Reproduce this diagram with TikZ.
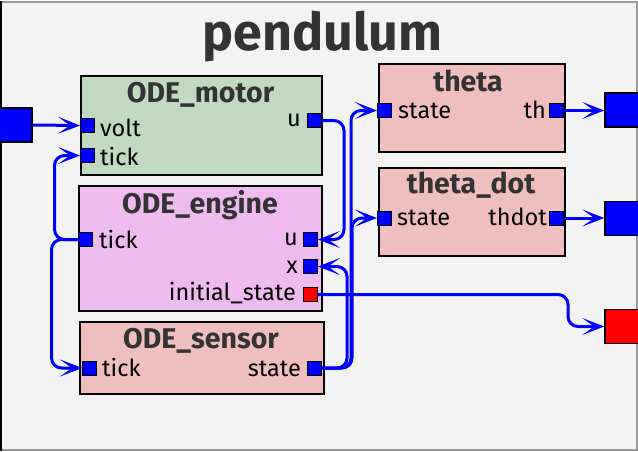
\documentclass[tikz,border=0pt]{standalone}
\usepackage{fontspec}
\setmainfont{Fira Sans}
\usetikzlibrary{arrows.meta}
\definecolor{bg}{HTML}{F3F3F3}
\definecolor{motorc}{HTML}{C0D9C0}
\definecolor{enginec}{HTML}{EEBBEE}
\definecolor{pinkc}{HTML}{EFBFBF}
\definecolor{titlec}{HTML}{333333}
\definecolor{framec}{HTML}{999999}
\begin{document}
\begin{tikzpicture}[x=1pt,y=-1pt,
 block/.style={draw=black, line width=2pt, anchor=north west, inner sep=0pt},
 port/.style={draw=black, line width=1pt, fill=blue, minimum size=14pt, inner sep=0pt},
 rport/.style={port, fill=red},
 ext/.style={draw=black, line width=1.5pt, fill=blue, minimum width=34pt, minimum height=34pt, inner sep=0pt},
 btitle/.style={font=\fontsize{28.5}{28.5}\selectfont\bfseries, text=titlec, anchor=base, inner sep=0pt},
 plabel/.style={font=\fontsize{23.5}{23.5}\selectfont, inner sep=0pt},
 wire/.style={draw=blue, line width=3pt, rounded corners=10pt, -{Stealth[length=22pt,width=17pt,inset=12pt]}},
]
\useasboundingbox (0,0) rectangle (638,451);
% frame
\fill[bg] (1,2) rectangle (636.5,449.5);
\draw[framec, line width=2pt] (1,2) -- (636.5,2) -- (636.5,449.5) -- (1,449.5);
\draw[black, line width=2pt] (1,1) -- (1,450.5);
\node[font=\fontsize{52}{52}\selectfont\bfseries, text=titlec, anchor=base, inner sep=0pt] (title) at (322.5,50) {pendulum};

% blocks
\node[block, fill=motorc, minimum width=241pt, minimum height=99pt] (motor) at (80,75) {};
\node[block, fill=enginec, minimum width=243pt, minimum height=125pt] (engine) at (78,185) {};
\node[block, fill=pinkc, minimum width=244pt, minimum height=72pt] (sensor) at (79,321) {};
\node[block, fill=pinkc, minimum width=186pt, minimum height=88pt] (theta) at (378,63) {};
\node[block, fill=pinkc, minimum width=186pt, minimum height=88pt] (thetadot) at (378,167) {};

% titles
\node[btitle] (t-motor) at (200.5,102) {ODE\_motor};
\node[btitle] (t-engine) at (200,213) {ODE\_engine};
\node[btitle] (t-sensor) at (201,348) {ODE\_sensor};
\node[btitle] (t-theta) at (468,91.5) {theta};
\node[btitle] (t-thetadot) at (471,193) {theta\_dot};

% ports
\node[port] (motor-volt) at (87.5,125.5) {};
\node[port] (motor-tick) at (87.5,155.5) {};
\node[port] (motor-u) at (314.5,120.5) {};
\node[port] (engine-tick) at (85,239.5) {};
\node[port] (engine-u) at (310.5,239.5) {};
\node[port] (engine-x) at (310.5,266.5) {};
\node[rport] (engine-init) at (310.5,294.5) {};
\node[port] (sensor-tick) at (89.5,368) {};
\node[port] (sensor-state) at (314.5,368) {};
\node[port] (theta-state) at (384.5,110.5) {};
\node[port] (theta-th) at (556,110.5) {};
\node[port] (thetadot-state) at (384.5,218) {};
\node[port] (thetadot-thdot) at (556,218) {};

% external ports
\node[ext] (in) at (15,125) {};
\node[ext] (out1) at (622,110) {};
\node[ext] (out2) at (622,218.5) {};
\node[ext, fill=red] (outr) at (622,326.5) {};

% labels
\node[plabel, anchor=base west] (l-volt) at (100,136) {volt};
\node[plabel, anchor=base west] (l-mtick) at (100,165) {tick};
\node[plabel, anchor=base east] (l-mu) at (301,126.5) {u};
\node[plabel, anchor=base west] (l-etick) at (99,248) {tick};
\node[plabel, anchor=base east] (l-eu) at (298,245.5) {u};
\node[plabel, anchor=base east] (l-ex) at (298,273) {x};
\node[plabel, anchor=base east] (l-einit) at (296,300.5) {initial\_state};
\node[plabel, anchor=base west] (l-stick) at (102,376.5) {tick};
\node[plabel, anchor=base east] (l-sstate) at (301,376.5) {state};
\node[plabel, anchor=base west] (l-tstate) at (398,118) {state};
\node[plabel, anchor=base east] (l-tth) at (546,118) {th};
\node[plabel, anchor=base west] (l-tdstate) at (397,225.5) {state};
\node[plabel, anchor=base east] (l-tdthdot) at (547,225.5) {thdot};

% wires
\draw[wire] (in.east) -- (motor-volt.west);
\draw[wire] (engine-tick.west) -- ++(-23,0) |- (motor-tick.west);
\draw[wire] (engine-tick.west) -- ++(-26,0) |- (sensor-tick.west);
\draw[wire] (motor-u.east) -- ++(22,0) |- (engine-u.east);
\draw[wire] (sensor-state.east) -- ++(25,0) |- (engine-x.east);
\draw[wire] (sensor-state.east) -- ++(29,0) |- (theta-state.west);
\draw[wire] (sensor-state.east) -- ++(30,0) |- (thetadot-state.west);
\draw[wire] (engine-init.east) -- ++(250,0) |- (outr.west);
\draw[wire] (theta-th.east) -- (theta-th.east -| out1.west);
\draw[wire] (thetadot-thdot.east) -- (thetadot-thdot.east -| out2.west);
\end{tikzpicture}
\end{document}
